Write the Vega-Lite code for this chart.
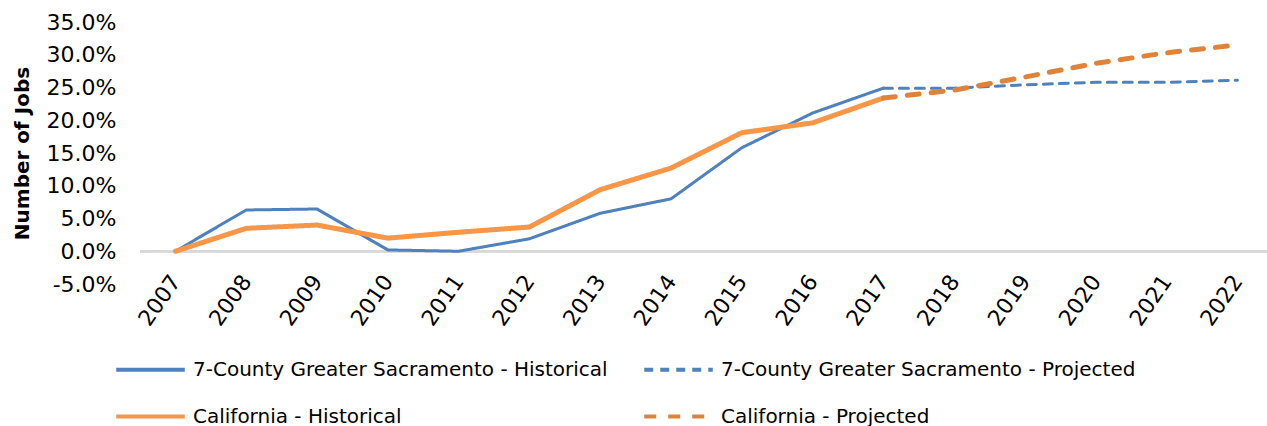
{
  "$schema": "https://vega.github.io/schema/vega-lite/v6.json",
  "width": 1127,
  "height": 262,
  "autosize": "none",
  "padding": {"left": 140, "top": 22, "right": 0, "bottom": 142},
  "background": "white",
  "config": {
    "view": {"stroke": null},
    "axisY": {"labelOverlap": false},
    "axisX": {"labelOverlap": false}
  },
  "data": {"values": [
    {"year": "2007", "value": 0.000, "series": "7-County Greater Sacramento - Historical"},
    {"year": "2008", "value": 0.063, "series": "7-County Greater Sacramento - Historical"},
    {"year": "2009", "value": 0.0645, "series": "7-County Greater Sacramento - Historical"},
    {"year": "2010", "value": 0.002, "series": "7-County Greater Sacramento - Historical"},
    {"year": "2011", "value": 0.000, "series": "7-County Greater Sacramento - Historical"},
    {"year": "2012", "value": 0.019, "series": "7-County Greater Sacramento - Historical"},
    {"year": "2013", "value": 0.058, "series": "7-County Greater Sacramento - Historical"},
    {"year": "2014", "value": 0.080, "series": "7-County Greater Sacramento - Historical"},
    {"year": "2015", "value": 0.158, "series": "7-County Greater Sacramento - Historical"},
    {"year": "2016", "value": 0.211, "series": "7-County Greater Sacramento - Historical"},
    {"year": "2017", "value": 0.249, "series": "7-County Greater Sacramento - Historical"},
    {"year": "2017", "value": 0.249, "series": "7-County Greater Sacramento - Projected"},
    {"year": "2018", "value": 0.249, "series": "7-County Greater Sacramento - Projected"},
    {"year": "2019", "value": 0.254, "series": "7-County Greater Sacramento - Projected"},
    {"year": "2020", "value": 0.258, "series": "7-County Greater Sacramento - Projected"},
    {"year": "2021", "value": 0.258, "series": "7-County Greater Sacramento - Projected"},
    {"year": "2022", "value": 0.261, "series": "7-County Greater Sacramento - Projected"},
    {"year": "2007", "value": 0.000, "series": "California - Historical"},
    {"year": "2008", "value": 0.035, "series": "California - Historical"},
    {"year": "2009", "value": 0.040, "series": "California - Historical"},
    {"year": "2010", "value": 0.020, "series": "California - Historical"},
    {"year": "2011", "value": 0.029, "series": "California - Historical"},
    {"year": "2012", "value": 0.037, "series": "California - Historical"},
    {"year": "2013", "value": 0.094, "series": "California - Historical"},
    {"year": "2014", "value": 0.127, "series": "California - Historical"},
    {"year": "2015", "value": 0.181, "series": "California - Historical"},
    {"year": "2016", "value": 0.196, "series": "California - Historical"},
    {"year": "2017", "value": 0.234, "series": "California - Historical"},
    {"year": "2017", "value": 0.234, "series": "California - Projected"},
    {"year": "2018", "value": 0.246, "series": "California - Projected"},
    {"year": "2019", "value": 0.266, "series": "California - Projected"},
    {"year": "2020", "value": 0.287, "series": "California - Projected"},
    {"year": "2021", "value": 0.303, "series": "California - Projected"},
    {"year": "2022", "value": 0.315, "series": "California - Projected"}
  ]},
  "layer": [
    {
      "mark": {"type": "rule", "color": "#D9D9D9", "strokeWidth": 2},
      "encoding": {"y": {"datum": 0, "type": "quantitative", "scale": {"domain": [-0.05, 0.35], "nice": false, "zero": false}, "axis": {"title": "Number of Jobs", "titleFont": "DejaVu Sans", "titleFontWeight": "bold", "titleFontSize": 20, "titleColor": "#000000", "titlePadding": 14, "format": ".1%", "labelExpr": "replace(datum.label, '\u2212', '-')", "values": [-0.05, 0, 0.05, 0.1, 0.15, 0.2, 0.25, 0.3, 0.35], "labelOverlap": false, "domain": false, "ticks": false, "grid": false, "labelFont": "DejaVu Sans", "labelFontSize": 22, "labelColor": "#000000", "labelPadding": 24}}}
    },
    {
      "transform": [{"filter": "indexof(datum.series, 'California') < 0"}],
      "mark": {"type": "line", "strokeCap": "round", "strokeJoin": "round", "strokeWidth": 3},
      "encoding": {
        "x": {
          "field": "year", "type": "ordinal",
          "scale": {"type": "point", "padding": 0, "range": [35.4, 1097.4]},
          "axis": {"title": null, "domain": false, "ticks": false, "labelAngle": -55, "labelFont": "DejaVu Sans", "labelFontSize": 22, "labelColor": "#000000", "labelPadding": -7, "labelOverlap": false}
        },
        "y": {"field": "value", "type": "quantitative", "axis": {"title": "Number of Jobs", "titleFont": "DejaVu Sans", "titleFontWeight": "bold", "titleFontSize": 20, "titleColor": "#000000", "titlePadding": 14, "format": ".1%", "labelExpr": "replace(datum.label, '\u2212', '-')", "values": [-0.05, 0, 0.05, 0.1, 0.15, 0.2, 0.25, 0.3, 0.35], "labelOverlap": false, "domain": false, "ticks": false, "grid": false, "labelFont": "DejaVu Sans", "labelFontSize": 22, "labelColor": "#000000", "labelPadding": 24}},
        "color": {
          "field": "series", "type": "nominal",
          "scale": {"domain": ["7-County Greater Sacramento - Historical", "7-County Greater Sacramento - Projected", "California - Historical", "California - Projected"], "range": ["#4F81BD", "#4F81BD", "#F79646", "#E0833A"]},
          "legend": {"title": null, "orient": "none", "legendX": -26, "legendY": 311, "columns": 2, "direction": "horizontal", "symbolType": "stroke", "symbolSize": 4700, "symbolStrokeWidth": 4, "labelFont": "DejaVu Sans", "labelFontSize": 20, "labelColor": "#000000", "labelLimit": 0, "rowPadding": -33, "columnPadding": 28, "labelOffset": 6}
        },
        "strokeDash": {
          "field": "series", "type": "nominal",
          "scale": {"domain": ["7-County Greater Sacramento - Historical", "7-County Greater Sacramento - Projected", "California - Historical", "California - Projected"], "range": [[1, 0], [9, 7], [1, 0], [12, 12]]}
        }
      }
    },
    {
      "transform": [{"filter": "indexof(datum.series, 'California') >= 0"}],
      "mark": {"type": "line", "strokeCap": "round", "strokeJoin": "round", "strokeWidth": 5},
      "encoding": {
        "x": {"field": "year", "type": "ordinal"},
        "y": {"field": "value", "type": "quantitative", "axis": {"title": "Number of Jobs", "titleFont": "DejaVu Sans", "titleFontWeight": "bold", "titleFontSize": 20, "titleColor": "#000000", "titlePadding": 14, "format": ".1%", "labelExpr": "replace(datum.label, '\u2212', '-')", "values": [-0.05, 0, 0.05, 0.1, 0.15, 0.2, 0.25, 0.3, 0.35], "labelOverlap": false, "domain": false, "ticks": false, "grid": false, "labelFont": "DejaVu Sans", "labelFontSize": 22, "labelColor": "#000000", "labelPadding": 24}},
        "color": {"field": "series", "type": "nominal"},
        "strokeDash": {"field": "series", "type": "nominal"}
      }
    }
  ]
}
